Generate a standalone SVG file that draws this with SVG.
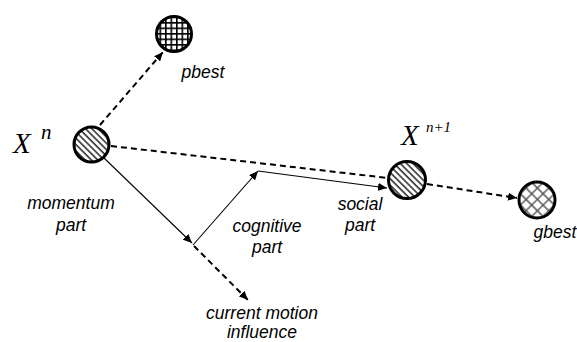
<svg xmlns="http://www.w3.org/2000/svg" width="577" height="342" viewBox="0 0 577 342">
<style>
.node{stroke:#000;stroke-width:3}
.dash{stroke:#000;stroke-width:2;stroke-dasharray:6 4;fill:none}
.solid{stroke:#000;stroke-width:1.1;fill:none}
.lbl{font-family:"Liberation Sans",Arial,sans-serif;font-style:italic;font-size:17.5px;fill:#000;text-anchor:middle}
.var{font-family:"Liberation Serif","Times New Roman",serif;font-style:italic;fill:#000}
</style>
<defs>
<pattern id="stripes" patternUnits="userSpaceOnUse" width="4.5" height="4.5" patternTransform="rotate(-45)">
<rect width="4.5" height="4.5" fill="#fff"/>
<line x1="1" y1="0" x2="1" y2="4.5" stroke="#333" stroke-width="1.6"/>
</pattern>
<pattern id="grid" patternUnits="userSpaceOnUse" width="5.5" height="5.5">
<rect width="5.5" height="5.5" fill="#fff"/>
<path d="M0,0.8 H5.5 M0.8,0 V5.5" stroke="#000" stroke-width="1.6" fill="none"/>
</pattern>
<pattern id="xhatch" patternUnits="userSpaceOnUse" width="8" height="8" patternTransform="rotate(45)">
<rect width="8" height="8" fill="#fff"/>
<path d="M0,1 H8 M1,0 V8" stroke="#555" stroke-width="1.4" fill="none"/>
</pattern>
<marker id="ah" markerUnits="userSpaceOnUse" markerWidth="10" markerHeight="8" refX="9" refY="4" orient="auto">
<path d="M0,0 L9,4 L0,8 z" fill="#000"/>
</marker>
</defs>
<g id="connectors">
<line class="dash" x1="100" y1="125" x2="163" y2="52" marker-end="url(#ah)"/>
<line class="dash" x1="111" y1="146" x2="388" y2="178"/>
<line class="dash" x1="427" y1="184" x2="517" y2="198" marker-end="url(#ah)"/>
<line class="solid" x1="104" y1="158" x2="192" y2="243" marker-end="url(#ah)"/>
<line class="solid" x1="193" y1="245" x2="258" y2="171" marker-end="url(#ah)"/>
<line class="solid" x1="258" y1="171" x2="387" y2="188" marker-end="url(#ah)"/>
<line class="dash" x1="194" y1="246" x2="248" y2="300" marker-end="url(#ah)"/>
</g>
<g id="xn">
<circle class="node" cx="91.5" cy="144.5" r="17.5" fill="url(#stripes)"/>
<text class="var" x="13" y="153" font-size="29">X</text>
<text class="var" x="41" y="139" font-size="21">n</text>
</g>
<g id="pbest">
<circle class="node" cx="174" cy="34" r="17.5" fill="url(#grid)"/>
<text class="lbl" x="203" y="78">pbest</text>
</g>
<g id="xn1">
<circle class="node" cx="407" cy="180" r="18.5" fill="url(#stripes)"/>
<text class="var" x="401" y="145" font-size="29">X</text>
<text class="var" x="426" y="132" font-size="15">n+1</text>
</g>
<g id="gbest">
<circle class="node" cx="537" cy="200" r="18" fill="url(#xhatch)"/>
<text class="lbl" x="555" y="238">gbest</text>
</g>
<g id="labels">
<text class="lbl" x="71" y="209">momentum</text>
<text class="lbl" x="71" y="231">part</text>
<text class="lbl" x="267" y="232">cognitive</text>
<text class="lbl" x="267" y="253">part</text>
<text class="lbl" x="360" y="210">social</text>
<text class="lbl" x="360" y="231">part</text>
<text class="lbl" x="262" y="319" font-size="16.5">current motion</text>
<text class="lbl" x="262" y="338" font-size="16.5">influence</text>
</g>
</svg>
